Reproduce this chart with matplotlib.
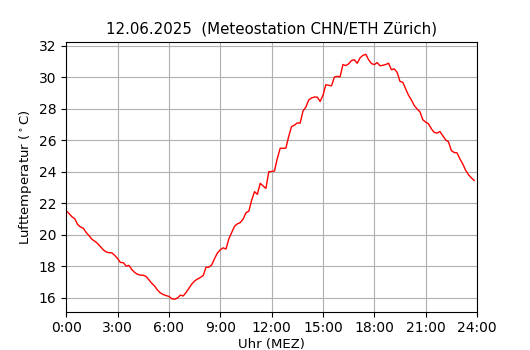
import matplotlib
matplotlib.use("Agg")
import matplotlib.pyplot as plt
import numpy as np

# 10-minute temperature values (°C), 0:00 .. 23:50
temps = [
    21.53, 21.35, 21.15, 21.02, 20.65, 20.50,
    20.42, 20.15, 19.95, 19.72, 19.60, 19.45,
    19.25, 19.05, 18.92, 18.87, 18.86, 18.70,
    18.50, 18.25, 18.24, 18.02, 18.06, 17.80,
    17.62, 17.50, 17.45, 17.44, 17.36, 17.15,
    16.93, 16.75, 16.50, 16.32, 16.22, 16.15,
    16.10, 15.95, 15.92, 16.00, 16.18, 16.13,
    16.35, 16.62, 16.88, 17.08, 17.20, 17.30,
    17.42, 17.95, 17.95, 18.10, 18.50, 18.85,
    19.05, 19.18, 19.10, 19.75, 20.15, 20.55,
    20.70, 20.78, 21.00, 21.40, 21.50, 22.20,
    22.74, 22.57, 23.27, 23.10, 22.95, 24.00,
    24.02, 24.05, 24.85, 25.49, 25.49, 25.50,
    26.25, 26.87, 26.95, 27.10, 27.08, 27.85,
    28.10, 28.55, 28.68, 28.74, 28.73, 28.46,
    28.85, 29.52, 29.48, 29.45, 30.00, 30.05,
    30.02, 30.80, 30.73, 30.84, 31.05, 31.10,
    30.88, 31.22, 31.38, 31.45, 31.10, 30.86,
    30.79, 30.92, 30.72, 30.75, 30.80, 30.88,
    30.47, 30.52, 30.30, 29.73, 29.67, 29.25,
    28.85, 28.55, 28.20, 27.98, 27.80, 27.30,
    27.15, 27.04, 26.72, 26.50, 26.45, 26.55,
    26.28, 26.02, 25.90, 25.35, 25.22, 25.20,
    24.82, 24.50, 24.10, 23.82, 23.62, 23.45,
]
hours = np.arange(len(temps)) / 6.0

tick_hours = [0, 3, 6, 9, 12, 15, 18, 21, 24]
tick_labels = ["0:00", "3:00", "6:00", "9:00", "12:00", "15:00", "18:00", "21:00", "24:00"]
y_ticks = [16, 18, 20, 22, 24, 26, 28, 30, 32]

fig, ax = plt.subplots(figsize=(5.3, 3.5), dpi=100)
ax.plot(hours, temps, color="red", linewidth=1.0)
ax.set_xlim(0, 24)
ax.set_xticks(tick_hours)
ax.set_xticklabels(tick_labels)
ax.set_yticks(y_ticks)
ax.grid(True)
ax.set_xlabel("Uhr (MEZ)", fontsize=9.5, labelpad=2)
ax.set_ylabel(r"Lufttemperatur ($^\circ$C)", fontsize=9.5, labelpad=3.5)
ax.set_title("12.06.2025  (Meteostation CHN/ETH Zürich)", fontsize=10.8)
fig.savefig("out.png", dpi=100)
